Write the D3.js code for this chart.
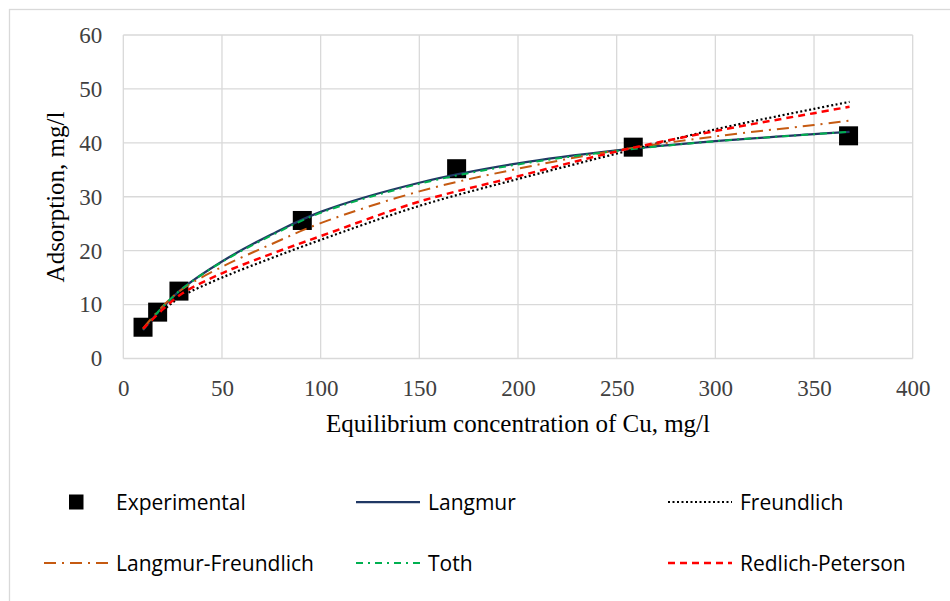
<!DOCTYPE html>
<html>
<head>
<meta charset="utf-8">
<script src="https://cdn.jsdelivr.net/npm/d3@7"></script>
<style>
    body { margin: 0; background: #fff; }
    svg { display: block; }
</style>
</head>
<body>
<svg id="chart" width="950" height="601"></svg>
<script>
// Experimental points
const expX = [10, 17.4, 28.2, 90.7, 168.9, 258.4, 367.5];
const expY = [5.8, 8.6, 12.5, 25.6, 35.2, 39.2, 41.3];

// Model curves at these concentrations
const modelX = [10, 20, 30, 50, 75, 100, 150, 200, 250, 300, 350, 368];
const langmur = [5.3, 9.5, 13.0, 18.0, 23.0, 27.2, 32.6, 36.2, 38.6, 40.3, 41.6, 42.05];
const freundlich = [5.5, 8.9, 11.6, 15.0, 18.6, 22.0, 28.3, 33.3, 38.0, 42.5, 46.3, 47.6];
const langmurFreundlich = [5.6, 9.7, 12.9, 17.0, 21.2, 25.1, 31.0, 35.2, 38.6, 41.2, 43.3, 44.1];
const toth = [5.4, 9.6, 13.0, 17.9, 22.8, 27.0, 32.4, 36.0, 38.5, 40.3, 41.6, 42.05];
const redlichPeterson = [5.5, 9.1, 12.1, 15.8, 19.4, 22.7, 29.1, 33.8, 38.4, 42.2, 45.5, 46.7];

const xTicks = [0, 50, 100, 150, 200, 250, 300, 350, 400];
const yTicks = [0, 10, 20, 30, 40, 50, 60];

const Chart = {
    series: [
        { name: 'Langmur', values: langmur, color: '#203864', width: 2.25, dash: null },
        { name: 'Freundlich', values: freundlich, color: '#000000', width: 2.2, dash: '2 2.5' },
        { name: 'Langmur-Freundlich', values: langmurFreundlich, color: '#c55a11', width: 2, dash: '12 6 2 6' },
        { name: 'Toth', values: toth, color: '#00b050', width: 2, dash: '7 5 2 5' },
        { name: 'Redlich-Peterson', values: redlichPeterson, color: '#ff0000', width: 2.5, dash: '7 5' }
    ],

    render() {
        const svg = d3.select('#chart');
        svg.selectAll('*').remove();

        const plot = { left: 123.3, right: 912.7, top: 35, bottom: 358.5 };

        const x = d3.scaleLinear().domain([0, 400]).range([plot.left, plot.right]);
        const y = d3.scaleLinear().domain([0, 60]).range([plot.bottom, plot.top]);

        // Outer chart border (runs off the right and bottom edges)
        svg.append('rect')
            .attr('x', 9.5).attr('y', 9.5)
            .attr('width', 960).attr('height', 610)
            .attr('fill', 'none')
            .attr('stroke', '#d9d9d9')
            .attr('stroke-width', 1.3);

        // Gridlines
        svg.append('g')
            .selectAll('line')
            .data(yTicks)
            .join('line')
            .attr('x1', plot.left).attr('x2', plot.right)
            .attr('y1', d => y(d)).attr('y2', d => y(d))
            .attr('stroke', '#d9d9d9')
            .attr('stroke-width', 1.3);

        svg.append('g')
            .selectAll('line')
            .data(xTicks)
            .join('line')
            .attr('y1', plot.top).attr('y2', plot.bottom)
            .attr('x1', d => x(d)).attr('x2', d => x(d))
            .attr('stroke', '#d9d9d9')
            .attr('stroke-width', 1.3);

        // Axes (labels only, the lines are the grid)
        const xAxis = svg.append('g')
            .attr('transform', `translate(0,${plot.bottom})`)
            .call(d3.axisBottom(x).tickValues(xTicks).tickSize(0).tickPadding(21));
        const yAxis = svg.append('g')
            .attr('transform', `translate(${plot.left},0)`)
            .call(d3.axisLeft(y).tickValues(yTicks).tickSize(0).tickPadding(21));

        [xAxis, yAxis].forEach(a => {
            a.select('.domain').remove();
            a.selectAll('text')
                .attr('font-family', '"Liberation Serif", serif')
                .attr('font-size', '23px')
                .attr('fill', '#404040');
        });

        // Axis titles
        svg.append('text')
            .attr('x', 518)
            .attr('y', 432)
            .attr('text-anchor', 'middle')
            .attr('font-family', '"Liberation Serif", serif')
            .attr('font-size', '25px')
            .attr('fill', '#000')
            .text('Equilibrium concentration of Cu, mg/l');

        svg.append('text')
            .attr('transform', 'translate(64,197) rotate(-90)')
            .attr('text-anchor', 'middle')
            .attr('font-family', '"Liberation Serif", serif')
            .attr('font-size', '25px')
            .attr('fill', '#000')
            .text('Adsorption, mg/l');

        // Experimental markers
        svg.append('g')
            .selectAll('rect')
            .data(expX.map((d, i) => [d, expY[i]]))
            .join('rect')
            .attr('x', d => x(d[0]) - 9.5)
            .attr('y', d => y(d[1]) - 9.5)
            .attr('width', 19).attr('height', 19)
            .attr('fill', '#000');

        // Model curves
        const line = d3.line()
            .x(d => x(d[0]))
            .y(d => y(d[1]))
            .curve(d3.curveCatmullRom.alpha(0.5));

        svg.append('g')
            .selectAll('path')
            .data(this.series)
            .join('path')
            .attr('d', s => line(modelX.map((d, i) => [d, s.values[i]])))
            .attr('fill', 'none')
            .attr('stroke', s => s.color)
            .attr('stroke-width', s => s.width)
            .attr('stroke-dasharray', s => s.dash);

        this.renderLegend(svg);
    },

    renderLegend(svg) {
        const cols = [44, 356, 668];
        const rows = [502, 563];
        const items = [
            { name: 'Experimental', marker: true },
            ...this.series
        ];

        const legend = svg.append('g')
            .selectAll('g')
            .data(items)
            .join('g')
            .attr('transform', (d, i) => `translate(${cols[i % 3]},${rows[Math.floor(i / 3)]})`);

        legend.filter(d => d.marker)
            .append('rect')
            .attr('x', 25).attr('y', -7.5)
            .attr('width', 14.5).attr('height', 15)
            .attr('fill', '#000');

        legend.filter(d => !d.marker)
            .append('line')
            .attr('x1', 0).attr('x2', 64)
            .attr('stroke', d => d.color)
            .attr('stroke-width', d => d.width)
            .attr('stroke-dasharray', d => d.dash);

        legend.append('text')
            .attr('x', 72)
            .attr('dy', '0.36em')
            .attr('font-family', '"Open Sans", sans-serif')
            .attr('font-size', '21px')
            .attr('fill', '#000')
            .text(d => d.name);
    }
};

Chart.render();
</script>
</body>
</html>
